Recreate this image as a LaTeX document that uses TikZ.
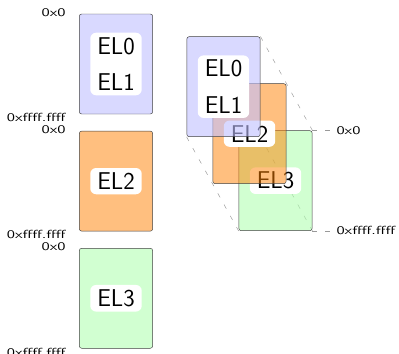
\documentclass[tikz,border=0pt]{standalone}
\usepackage{fontspec}
\usepackage{tikz}
\usetikzlibrary{positioning,backgrounds}
\newfontfamily\addrfont[FakeStretch=1.4]{Latin Modern Sans}
\tikzset{>=latex}
\tikzset{
    region/.style={draw=black!75, rounded corners=2pt, minimum width=2.2cm, minimum height=3cm},
    tag/.style={fill=white, rounded corners=5pt, font=\sffamily\huge, align=center, inner xsep=6pt, inner ysep=4pt},
    addr/.style={font=\addrfont},
    guide/.style={draw=black!40, dash pattern=on 4pt off 7pt},
    elzero/.style={fill=blue!25, fill opacity=0.6},
    eltwo/.style={fill=orange, fill opacity=0.5},
    elthree/.style={fill=green!30, fill opacity=0.6},
}

\begin{document}
\begin{tikzpicture}
            \useasboundingbox (0,0) rectangle (11.97,-10.62);
            \node[region, elzero] (l01) at (3.48,-1.92) {};
            \node[region, eltwo, below=0.5cm of l01] (l2) {};
            \node[region, elthree, below=0.5cm of l2] (l3) {};
            \node[tag] (l01tag) at (l01) {EL0\\[6pt]EL1};
            \node[tag] (l2tag) at (l2) {EL2};
            \node[tag] (l3tag) at (l3) {EL3};
            \foreach \b in {l01,l2,l3} {
                \node[addr, inner sep=0pt, anchor=east] (\b top) at ([xshift=-0.4cm, yshift=1pt]\b.north west) {0x0};
                \node[addr, inner sep=0pt, anchor=east] (\b end) at ([xshift=-0.4cm, yshift=-3pt]\b.south west) {0xffff.ffff};
            }
            \node[region, elthree] (r3) at (8.265,-5.42) {};
            \node[tag] (r3tag) at (r3) {EL3};
            \node[region, eltwo] (r2) at ([shift={(-0.78,1.41)}]r3) {};
            \node[tag] (r2tag) at (r2) {EL2};
            \node[region, elzero] (r01) at ([shift={(-0.78,1.41)}]r2) {};
            \node[tag] (r01tag) at (r01) {EL0\\[6pt]EL1};
            \node[addr, right=0.6cm of r3.north east] (rtop) {0x0};
            \node[addr, right=0.6cm of r3.south east] (rend) {0xffff.ffff};
            \begin{scope}[on background layer]
                \draw[guide] (r01.north east) -- (r3.north east);
                \draw[guide] (r01.south west) -- (r3.south west);
                \draw[guide] (r01.south east) -- (r3.south east);
                \draw[guide] (r3.north east) -- (rtop);
                \draw[guide] (r3.south east) -- (rend);
            \end{scope}
        \end{tikzpicture}
\end{document}
